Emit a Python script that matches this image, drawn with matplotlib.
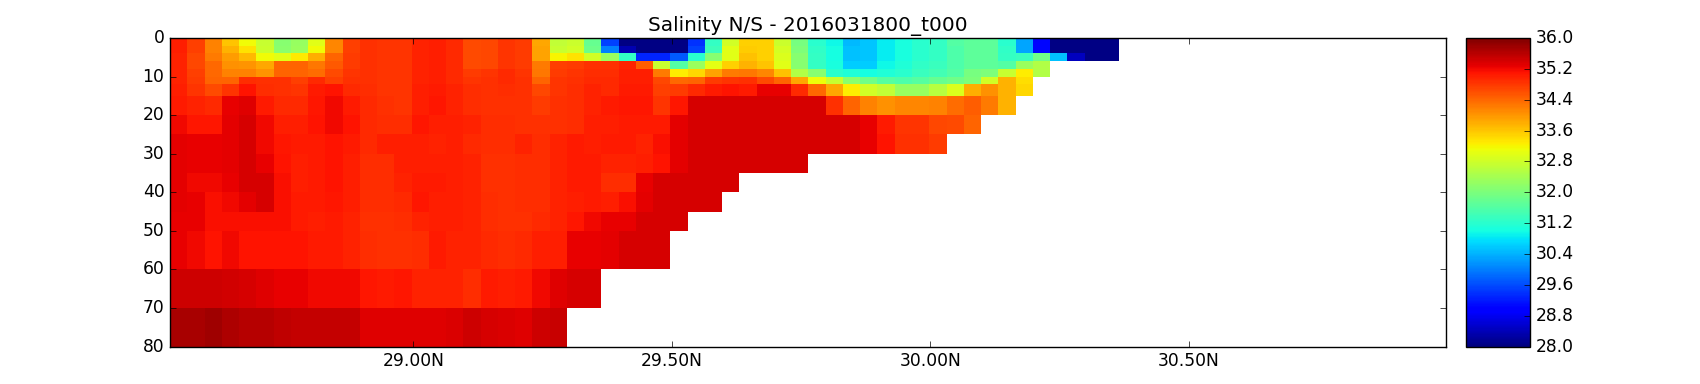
import numpy as np
import matplotlib
matplotlib.use("Agg")
import matplotlib.pyplot as plt

# layer edges (m) and lat of the first column edge
dep = [0, 2, 4, 6, 8, 10, 12, 15, 20, 25, 30, 35, 40, 45, 50, 60, 70, 80]
lat0 = 28.5294
dlat = 0.03337

s00 = [35.02, 34.72, 34.18, 33.6, 33.15, 32.72, 32.1, 32.25, 32.97, 34.15, 34.72, 34.85, 34.82, 34.82, 34.98, 35.02, 34.93, 34.65, 34.68, 34.82, 34.75, 33.85, 32.67, 32.77, 31.8, 29.5, 28.05,
       28.05, 28.05, 28.05, 29.4, 31.3, 32.82, 33.5, 33.5, 32.77, 31.95, 31.2, 30.95, 30.45, 30.55, 30.85, 31.05, 31.2, 31.3, 31.6, 31.7, 31.7, 31.2, 30.3, 29.05, 28.05, 28.05, 28.05, 28.05]
s02 = [35.02, 34.72, 34.18, 33.75, 33.35, 32.77, 32.15, 32.3, 33.15, 34.15, 34.72, 34.85, 34.82, 34.82, 34.98, 35.02, 34.93, 34.65, 34.68, 34.82, 34.75, 33.9, 32.72, 32.82, 31.85, 30.0, 28.35,
       28.05, 28.05, 28.05, 29.5, 31.4, 32.97, 33.55, 33.5, 32.87, 32.0, 31.25, 31.0, 30.5, 30.55, 30.85, 31.05, 31.2, 31.3, 31.55, 31.7, 31.7, 31.25, 30.3, 29.05, 28.05, 28.05, 28.05, 28.05]
s04 = [34.98, 34.68, 34.22, 33.95, 33.7, 33.15, 32.97, 33.3, 33.8, 34.43, 34.75, 34.85, 34.82, 34.82, 34.98, 35.02, 34.93, 34.65, 34.68, 34.82, 34.75, 33.9, 33.2, 33.35, 32.82, 32.3, 31.3,
       29.3, 29.3, 29.7, 31.2, 32.1, 32.97, 33.65, 33.5, 32.92, 32.1, 31.3, 31.0, 30.5, 30.55, 30.85, 31.05, 31.2, 31.3, 31.55, 31.7, 31.7, 31.3, 31.35, 31.9, 30.5, 28.45, 28.05, 28.05]
s06 = [34.98, 34.68, 34.38, 34.05, 34.0, 33.85, 34.43, 34.43, 34.27, 34.52, 34.75, 34.85, 34.82, 34.82, 34.98, 35.02, 34.93, 34.65, 34.68, 34.82, 34.75, 34.22, 34.72, 34.75, 34.85, 34.85, 34.98,
       34.47, 32.72, 31.6, 32.3, 33.02, 33.5, 33.75, 33.6, 32.97, 32.1, 31.3, 31.05, 30.6, 30.6, 30.95, 31.1, 31.25, 31.35, 31.55, 31.7, 31.7, 31.6, 32.3, 32.52]
s08 = [34.98, 34.72, 34.38, 34.18, 34.18, 34.0, 34.43, 34.43, 34.35, 34.65, 34.82, 34.85, 34.82, 34.82, 34.98, 35.02, 34.93, 34.75, 34.82, 34.93, 34.82, 34.27, 34.75, 34.82, 34.88, 34.88, 35.02,
       35.02, 34.22, 33.25, 33.45, 33.9, 34.22, 34.27, 34.15, 33.65, 32.52, 32.1, 31.2, 31.1, 31.0, 31.1, 31.2, 31.35, 31.45, 31.6, 31.95, 32.0, 32.72, 33.25, 32.52]
s10 = [34.98, 34.75, 34.43, 34.43, 34.88, 34.85, 34.85, 34.72, 34.93, 34.72, 34.85, 34.85, 34.82, 34.82, 34.98, 35.02, 34.93, 34.82, 34.85, 34.93, 34.85, 34.43, 34.82, 34.85, 34.93, 34.93, 35.02,
       35.02, 34.68, 34.38, 34.43, 34.75, 34.82, 34.85, 34.65, 34.43, 33.85, 33.1, 32.72, 32.15, 31.9, 31.65, 31.55, 31.65, 31.8, 31.9, 32.0, 32.82, 33.75, 33.4]
s12 = [35.02, 34.82, 34.65, 34.82, 35.1, 34.88, 34.85, 34.82, 35.05, 35.1, 34.93, 34.88, 34.82, 34.82, 35.02, 35.05, 34.98, 34.88, 34.85, 34.88, 34.85, 34.68, 34.82, 34.88, 34.98, 34.93, 35.05,
       35.05, 34.72, 34.75, 34.93, 35.05, 35.1, 35.05, 35.25, 35.25, 34.93, 34.38, 33.85, 33.25, 32.82, 32.67, 32.25, 32.25, 32.57, 32.92, 33.8, 34.05, 33.75, 33.45]
s15 = [35.05, 34.98, 34.93, 35.25, 35.33, 35.05, 34.93, 34.93, 35.08, 35.2, 35.05, 34.93, 34.85, 34.82, 35.02, 35.08, 34.98, 34.88, 34.85, 34.85, 34.85, 34.75, 34.85, 34.88, 34.98, 35.05, 35.08,
       35.08, 34.82, 35.08, 35.38, 35.4, 35.4, 35.38, 35.38, 35.38, 35.38, 35.38, 34.85, 34.43, 34.18, 34.05, 34.15, 34.15, 34.18, 34.35, 34.47, 34.22, 33.75]
s20 = [35.2, 35.08, 35.08, 35.3, 35.38, 35.2, 35.02, 35.02, 35.1, 35.2, 35.1, 34.93, 34.88, 34.88, 35.08, 35.02, 35.02, 34.98, 34.88, 34.88, 34.85, 34.85, 34.85, 34.88, 35.02, 35.02, 35.05,
       35.05, 35.05, 35.3, 35.38, 35.4, 35.4, 35.38, 35.38, 35.4, 35.4, 35.38, 35.38, 35.38, 35.25, 35.05, 34.82, 34.82, 34.68, 34.65, 34.43]
s25 = [35.3, 35.28, 35.28, 35.3, 35.4, 35.2, 35.08, 35.05, 35.05, 35.1, 35.05, 34.93, 35.02, 35.02, 35.02, 34.98, 35.02, 34.93, 34.88, 34.88, 34.98, 34.88, 34.98, 35.05, 35.02, 35.05, 35.05,
       34.98, 35.15, 35.3, 35.4, 35.4, 35.4, 35.4, 35.4, 35.4, 35.4, 35.38, 35.38, 35.4, 35.25, 35.1, 34.85, 34.85, 34.75]
s30 = [35.3, 35.25, 35.25, 35.3, 35.4, 35.28, 35.1, 35.02, 35.05, 35.1, 35.02, 34.88, 34.88, 35.02, 35.02, 35.02, 35.02, 34.98, 34.85, 34.85, 34.88, 34.88, 34.98, 35.05, 35.05, 34.98, 34.98,
       35.02, 35.1, 35.3, 35.4, 35.4, 35.4, 35.4, 35.4, 35.4, 35.4]
s35 = [35.3, 35.2, 35.2, 35.25, 35.38, 35.38, 35.15, 35.02, 35.05, 35.1, 35.02, 34.88, 34.88, 34.98, 35.05, 35.05, 35.02, 34.98, 34.85, 34.85, 34.88, 34.88, 34.98, 35.05, 35.05, 34.88, 34.88,
       35.25, 35.38, 35.4, 35.4, 35.4, 35.4]
s40 = [35.3, 35.25, 35.15, 35.2, 35.3, 35.38, 35.15, 35.05, 35.05, 35.08, 35.02, 34.88, 34.88, 34.93, 35.08, 35.02, 35.02, 34.98, 34.88, 34.85, 34.88, 34.88, 34.98, 35.02, 35.05, 35.02, 35.15,
       35.3, 35.38, 35.4, 35.4, 35.4]
s45 = [35.28, 35.25, 35.15, 35.15, 35.15, 35.15, 35.15, 35.05, 35.02, 35.05, 34.98, 34.85, 34.85, 34.88, 34.98, 35.02, 35.02, 34.98, 34.88, 34.85, 34.85, 34.93, 34.98, 35.08, 35.2, 35.28, 35.28,
       35.38, 35.4, 35.4]
s50 = [35.25, 35.2, 35.1, 35.2, 35.1, 35.1, 35.1, 35.1, 35.05, 35.05, 34.98, 34.88, 34.85, 34.85, 34.88, 35.05, 34.98, 34.98, 34.93, 34.88, 34.93, 35.02, 35.02, 35.28, 35.28, 35.3, 35.38,
       35.4, 35.4]
s60 = [35.45, 35.45, 35.45, 35.42, 35.38, 35.33, 35.28, 35.25, 35.2, 35.2, 35.2, 35.08, 35.05, 35.08, 34.98, 34.98, 34.98, 34.88, 35.05, 35.02, 35.05, 35.2, 35.33, 35.38, 35.38]
s70 = [35.7, 35.7, 35.75, 35.66, 35.62, 35.62, 35.55, 35.52, 35.52, 35.52, 35.5, 35.33, 35.33, 35.33, 35.33, 35.33, 35.35, 35.45, 35.4, 35.35, 35.33, 35.45, 35.48]

rows = [s00, s02, s04, s06, s08, s10, s12, s15, s20, s25, s30, s35, s40, s45, s50, s60, s70]
cb_ticks = [28.0, 28.8, 29.6, 30.4, 31.2, 32.0, 32.8, 33.6, 34.4, 35.2, 36.0]
lat_ticks = [29.0, 29.5, 30.0, 30.5]
lat_lbl = ["29.00N", "29.50N", "30.00N", "30.50N"]


def main():
    plt.style.use("classic")
    ncol = max(len(r) for r in rows)
    z = np.full((len(rows), ncol), np.nan)
    for i, r in enumerate(rows):
        z[i, :len(r)] = r
    z = np.ma.masked_invalid(z)
    x = lat0 + dlat * np.arange(ncol + 1)

    fig = plt.figure(figsize=(17, 3.84), dpi=100, facecolor="white")
    ax = fig.add_axes([170 / 1700, 1 - 346.5 / 384, 1276 / 1700, 308.5 / 384])
    m = ax.pcolormesh(x, dep, z, cmap="jet", vmin=28, vmax=36)
    ax.set_xlim(lat0, 30.997)
    ax.set_ylim(80, 0)
    ax.set_yticks(range(0, 81, 10))
    ax.set_xticks(lat_ticks)
    ax.set_xticklabels(lat_lbl)
    ax.tick_params(labelsize=12.3)
    ax.set_title("Salinity N/S - 2016031800_t000", fontsize=14.4)

    cax = fig.add_axes([1466 / 1700, 1 - 346.5 / 384, 64 / 1700, 308.5 / 384])
    cb = fig.colorbar(m, cax=cax, ticks=cb_ticks, format="%.1f")
    cb.ax.tick_params(labelsize=12.3)

    fig.savefig("out.png", dpi=100, facecolor="white")


if __name__ == "__main__":
    main()
